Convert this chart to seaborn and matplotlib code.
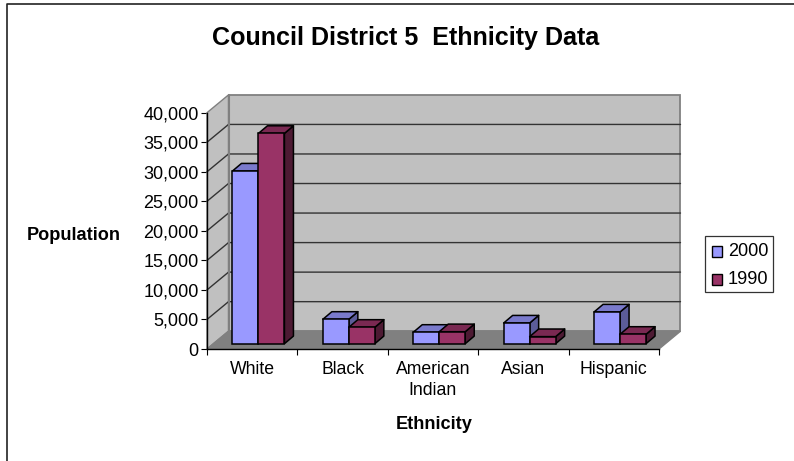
import matplotlib
matplotlib.use("Agg")
import matplotlib.pyplot as plt
from matplotlib.patches import Polygon, Rectangle
import numpy as np
import pandas as pd
import seaborn as sns

categories = ["White", "Black", "American\nIndian", "Asian", "Hispanic"]
series_names = ["2000", "1990"]
values_2000 = [29230, 4130, 1930, 3500, 5370]
values_1990 = [35600, 2780, 2030, 1200, 1590]
y_ticks = list(range(0, 40001, 5000))

FRONT = "#9999FF"
FRONT2 = "#993366"
TOP = {FRONT: "#7A7ACC", FRONT2: "#7A2952"}
SIDE = {FRONT: "#5C5C99", FRONT2: "#4D1A33"}
WALL = "#C0C0C0"
FLOOR = "#808080"

sns.set_theme(style="white")
plt.rcParams["font.family"] = ["Liberation Sans", "DejaVu Sans"]

W, H = 794, 461
fig = plt.figure(figsize=(W / 100, H / 100), dpi=100, facecolor="white")
L, R, B, T = 207, 659, 349, 112.7
ax = fig.add_axes([L / W, 1 - B / H, (R - L) / W, (B - T) / H])
ax.patch.set_alpha(0)

df = pd.DataFrame({
    "Ethnicity": categories * 2,
    "Year": [series_names[0]] * 5 + [series_names[1]] * 5,
    "Population": values_2000 + values_1990,
})
sns.barplot(data=df, x="Ethnicity", y="Population", hue="Year", hue_order=series_names,
            palette=[FRONT, FRONT2], width=0.575, gap=0, saturation=1, legend=False,
            ax=ax, zorder=5)
ax.set_xlim(-0.5, 4.5)
ax.set_ylim(0, 40000)

ux = 5 / (R - L)
uy = 40000 / (B - T)
wall_dx, wall_dy = 21.5 * ux, 17.8 * uy
bar_dx, bar_dy = 6.25 * ux, 5.3 * uy
dep_dx, dep_dy = 9.0 * ux, 7.6 * uy

x0, x1 = -0.5, 4.5
ymax = 40000
kw = dict(clip_on=False, transform=ax.transData)

bars = [p for p in ax.patches if isinstance(p, Rectangle) and p.get_height() > 0]

ax.add_patch(Polygon([(x0 + wall_dx, wall_dy), (x1 + wall_dx, wall_dy),
                      (x1 + wall_dx, ymax + wall_dy), (x0 + wall_dx, ymax + wall_dy)],
                     fc=WALL, ec=FLOOR, lw=1.3, zorder=1, **kw))
ax.add_patch(Polygon([(x0, 0), (x0 + wall_dx, wall_dy), (x0 + wall_dx, ymax + wall_dy), (x0, ymax)],
                     fc=WALL, ec=FLOOR, lw=1.0, zorder=1, **kw))
ax.add_patch(Polygon([(x0, 0), (x1, 0), (x1 + wall_dx, wall_dy), (x0 + wall_dx, wall_dy)],
                     fc=FLOOR, ec=FLOOR, lw=1.0, zorder=1.5, **kw))
for v in y_ticks[1:-1]:
    ax.plot([x0, x0 + wall_dx, x1 + wall_dx], [v, v + wall_dy, v + wall_dy],
            color="#333333", lw=1.0, zorder=2, clip_on=False)
ax.plot([x0 + wall_dx, x0 + wall_dx], [wall_dy, ymax + wall_dy], color=FLOOR, lw=1.5, zorder=3, clip_on=False)

for patch in bars:
    c = matplotlib.colors.to_hex(patch.get_facecolor()).upper()
    x, w, h = patch.get_x(), patch.get_width(), patch.get_height()
    xa, xb = x + bar_dx, x + w + bar_dx
    ya, yb = bar_dy, h + bar_dy
    order = 5 + x + (0.01 if c == FRONT2 else 0)
    ax.add_patch(Polygon([(xb, ya), (xb + dep_dx, ya + dep_dy), (xb + dep_dx, yb + dep_dy), (xb, yb)],
                         fc=SIDE[c], ec="black", lw=1.1, joinstyle="round", zorder=order, **kw))
    ax.add_patch(Polygon([(xa, yb), (xb, yb), (xb + dep_dx, yb + dep_dy), (xa + dep_dx, yb + dep_dy)],
                         fc=TOP[c], ec="black", lw=1.1, joinstyle="round", zorder=order, **kw))
    patch.set_visible(False)
    ax.add_patch(Rectangle((xa, ya), w, h, fc=c, ec="black", lw=1.1, zorder=order + 0.001, **kw))

for s in ["top", "right"]:
    ax.spines[s].set_visible(False)
for s in ["left", "bottom"]:
    ax.spines[s].set_visible(True)
    ax.spines[s].set_color("black")
    ax.spines[s].set_linewidth(1.0)
    ax.spines[s].set_zorder(4)

ax.set_yticks(y_ticks)
ax.set_yticklabels([f"{v:,}" for v in y_ticks], fontsize=13, color="black")
ax.set_xticks(np.arange(-0.5, 5, 1), minor=True)
ax.set_xticks(range(5))
ax.set_xticklabels(categories, fontsize=12.7, color="black", linespacing=1.32)
ax.tick_params(axis="x", which="major", length=0, pad=8.5)
ax.tick_params(axis="x", which="minor", length=4.5, width=0.8, color="black", bottom=True)
ax.tick_params(axis="y", length=4.5, width=0.8, color="black", left=True, pad=1.5)
ax.set_xlabel("")
ax.set_ylabel("")

fig.text(406 / W, 1 - 37.5 / H, "Council District 5  Ethnicity Data", ha="center", va="center",
         fontsize=18.1, fontweight="bold", color="black")
fig.text(73.5 / W, 1 - 235 / H, "Population", ha="center", va="center",
         fontsize=13.1, fontweight="bold", color="black")
fig.text(434 / W, 1 - 424 / H, "Ethnicity", ha="center", va="center",
         fontsize=13.1, fontweight="bold", color="black")

fig.add_artist(Rectangle((705 / W, 1 - 292 / H), 68 / W, 56 / H, transform=fig.transFigure,
                         fc="white", ec="#333333", lw=0.9))
for yy, col, lab in [(251, FRONT, series_names[0]), (279, FRONT2, series_names[1])]:
    fig.add_artist(Rectangle((711.5 / W, 1 - (yy + 5.5) / H), 10.5 / W, 10.5 / H, transform=fig.transFigure,
                             fc=col, ec="black", lw=1.0))
    fig.text(728 / W, 1 - yy / H, lab, ha="left", va="center", fontsize=13.1, color="black")

fig.add_artist(plt.Line2D([7 / W, 7 / W, 794 / W], [0, 1 - 4 / H, 1 - 4 / H], transform=fig.transFigure,
                          color="#222222", lw=1.2))
fig.savefig("out.png", dpi=100)
